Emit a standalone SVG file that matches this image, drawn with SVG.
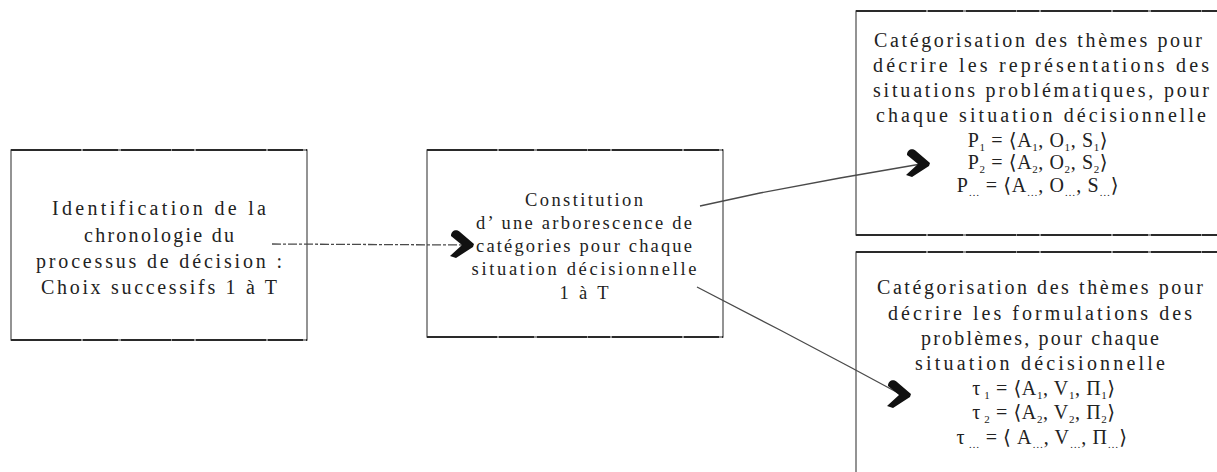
<svg xmlns="http://www.w3.org/2000/svg" width="1217" height="472" viewBox="0 0 1217 472">
<style>
  .box { fill: none; stroke: #5a5a5a; stroke-width: 1.3; }
  .edge { fill: none; stroke: #2a2a2a; stroke-width: 2.2; stroke-dasharray: 70 2 35 3 50 1 22 2; }
  .t { font-family: "Liberation Serif", "DejaVu Serif", serif; fill: #222; text-anchor: middle; }
  .t20 { font-size: 20px; }
  .t18 { font-size: 18.5px; }
  .f { font-family: "Liberation Serif", "DejaVu Serif", serif; font-size: 20px; letter-spacing: 0.6px; fill: #222; text-anchor: middle; }
  .s { font-size: 11px; }
  .conn { fill: none; stroke: #4a4a4a; stroke-width: 1.3; }
  .dash { stroke-dasharray: 9 2 3 2; }
</style>
<defs>
  <marker id="chev" markerUnits="userSpaceOnUse" orient="0" refX="0" refY="0" markerWidth="40" markerHeight="40" viewBox="-20 -20 40 40" overflow="visible">
    <path d="M-14,-9 C-14,-15 -8,-16 -5,-13 L9,-1 L8,2 L-9,13 L-15,11 L-3,0 Z" fill="#111"/>
  </marker>
</defs>

<g id="node-chronologie">
  <rect class="box" x="11" y="150" width="296" height="190"/>
  <path class="edge" d="M11,150 H307 M11,340 H307"/>
  <text class="t t20" x="159" y="215" textLength="214" lengthAdjust="spacing">Identification de la</text>
  <text class="t t20" x="159" y="242" textLength="150" lengthAdjust="spacing">chronologie du</text>
  <text class="t t20" x="159" y="268" textLength="246" lengthAdjust="spacing">processus de décision :</text>
  <text class="t t20" x="159" y="294" textLength="236" lengthAdjust="spacing">Choix successifs 1 à T</text>
</g>

<g id="node-arborescence">
  <rect class="box" x="427" y="150" width="296" height="187"/>
  <path class="edge" d="M427,150 H723 M427,337 H723"/>
  <text class="t t18" x="584" y="206" textLength="118" lengthAdjust="spacing">Constitution</text>
  <text class="t t18" x="584" y="229" textLength="216" lengthAdjust="spacing">d’ une arborescence de</text>
  <text class="t t18" x="584" y="252" textLength="216" lengthAdjust="spacing">catégories pour chaque</text>
  <text class="t t18" x="584" y="275" textLength="225" lengthAdjust="spacing">situation décisionnelle</text>
  <text class="t t18" x="584" y="299" textLength="49" lengthAdjust="spacing">1 à T</text>
</g>

<g id="node-representations">
  <rect class="box" x="856" y="11" width="380" height="224"/>
  <path class="edge" d="M856,11 H1217 M856,235 H1217"/>
  <text class="t t20" x="1038" y="47" textLength="328" lengthAdjust="spacing">Catégorisation des thèmes pour</text>
  <text class="t t20" x="1041" y="72" textLength="336" lengthAdjust="spacing">décrire les représentations des</text>
  <text class="t t20" x="1041" y="97" textLength="336" lengthAdjust="spacing">situations problématiques, pour</text>
  <text class="t t20" x="1041" y="122" textLength="330" lengthAdjust="spacing">chaque situation décisionnelle</text>
  <text class="f" x="1038" y="147">P<tspan class="s" dy="4">1</tspan><tspan dy="-4"> = ⟨A</tspan><tspan class="s" dy="4">1</tspan><tspan dy="-4">, O</tspan><tspan class="s" dy="4">1</tspan><tspan dy="-4">, S</tspan><tspan class="s" dy="4">1</tspan><tspan dy="-4">⟩</tspan></text>
  <text class="f" x="1038" y="169">P<tspan class="s" dy="4">2</tspan><tspan dy="-4"> = ⟨A</tspan><tspan class="s" dy="4">2</tspan><tspan dy="-4">, O</tspan><tspan class="s" dy="4">2</tspan><tspan dy="-4">, S</tspan><tspan class="s" dy="4">2</tspan><tspan dy="-4">⟩</tspan></text>
  <text class="f" x="1038" y="192">P<tspan class="s" dy="4">…</tspan><tspan dy="-4"> = ⟨A</tspan><tspan class="s" dy="4">…</tspan><tspan dy="-4">, O</tspan><tspan class="s" dy="4">…</tspan><tspan dy="-4">, S</tspan><tspan class="s" dy="4">…</tspan><tspan dy="-4">⟩</tspan></text>
</g>

<g id="node-formulations">
  <rect class="box" x="856" y="252" width="380" height="240"/>
  <path class="edge" d="M856,252 H1217"/>
  <text class="t t20" x="1040" y="294" textLength="326" lengthAdjust="spacing">Catégorisation des thèmes pour</text>
  <text class="t t20" x="1040" y="320" textLength="304" lengthAdjust="spacing">décrire les formulations des</text>
  <text class="t t20" x="1040" y="345" textLength="238" lengthAdjust="spacing">problèmes, pour chaque</text>
  <text class="t t20" x="1040" y="370" textLength="250" lengthAdjust="spacing">situation décisionnelle</text>
  <text class="f" x="1044" y="395">τ<tspan class="s" dy="4"> 1</tspan><tspan dy="-4"> = ⟨A</tspan><tspan class="s" dy="4">1</tspan><tspan dy="-4">, V</tspan><tspan class="s" dy="4">1</tspan><tspan dy="-4">, Π</tspan><tspan class="s" dy="4">1</tspan><tspan dy="-4">⟩</tspan></text>
  <text class="f" x="1044" y="419">τ<tspan class="s" dy="4"> 2</tspan><tspan dy="-4"> = ⟨A</tspan><tspan class="s" dy="4">2</tspan><tspan dy="-4">, V</tspan><tspan class="s" dy="4">2</tspan><tspan dy="-4">, Π</tspan><tspan class="s" dy="4">2</tspan><tspan dy="-4">⟩</tspan></text>
  <text class="f" x="1042" y="444">τ<tspan class="s" dy="4"> …</tspan><tspan dy="-4"> = ⟨ A</tspan><tspan class="s" dy="4">…</tspan><tspan dy="-4">, V</tspan><tspan class="s" dy="4">…</tspan><tspan dy="-4">, Π</tspan><tspan class="s" dy="4">…</tspan><tspan dy="-4">⟩</tspan></text>
</g>

<g id="connectors">
  <path class="conn dash" d="M272,244 L465,245" marker-end="url(#chev)"/>
  <path class="conn" d="M700,206 L760,193 L840,178 L921,164" marker-end="url(#chev)"/>
  <path class="conn" d="M697,287 L780,330 L850,367 L902,395" marker-end="url(#chev)"/>
</g>
</svg>
